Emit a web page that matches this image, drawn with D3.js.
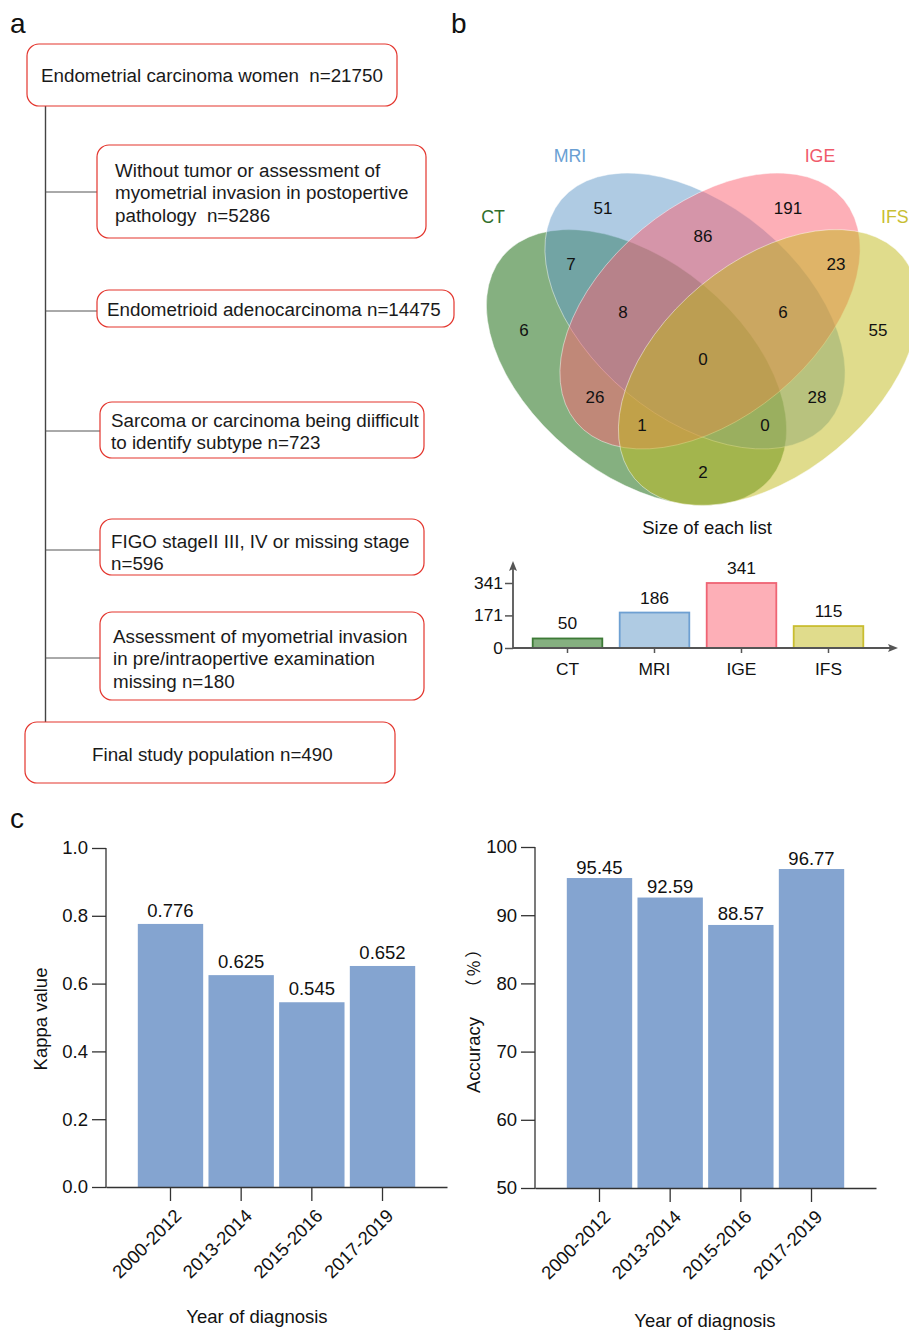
<!DOCTYPE html>
<html><head><meta charset="utf-8">
<script src="https://cdn.jsdelivr.net/npm/d3@7/dist/d3.min.js"></script>
<style>
body{margin:0;background:#fff}
svg{display:block;font-family:"Liberation Sans",Arial,Helvetica,sans-serif}
</style>
</head><body>
<svg id="fig" width="909" height="1330"></svg>
<script>
// ---------------- DATA ----------------
const flowTexts = [
  ["Endometrial carcinoma women\u00a0\u00a0n=21750"],
  ["Without tumor or assessment of", "myometrial invasion in postopertive", "pathology\u00a0\u00a0n=5286"],
  ["Endometrioid adenocarcinoma n=14475"],
  ["Sarcoma or carcinoma being diifficult", "to identify subtype n=723"],
  ["FIGO stageII III, IV or missing stage", "n=596"],
  ["Assessment of myometrial invasion", "in pre/intraopertive examination", "missing n=180"],
  ["Final study population n=490"]
];
const vennSets = ["CT", "MRI", "IGE", "IFS"];
const vennRegions = ["CT", "MRI", "IGE", "IFS", "CT&MRI", "MRI&IGE", "IGE&IFS", "CT&MRI&IGE", "MRI&IGE&IFS", "ALL", "CT&IGE", "MRI&IFS", "CT&IGE&IFS", "CT&MRI&IFS", "CT&IFS"];
const vennCounts = [6, 51, 191, 55, 7, 86, 23, 8, 6, 0, 26, 28, 1, 0, 2];
const listSizes = [50, 186, 341, 115];
const listTicks = [0, 171, 341];
const years = ["2000-2012", "2013-2014", "2015-2016", "2017-2019"];
const kappa = [0.776, 0.625, 0.545, 0.652];
const kappaTicks = [0, 0.2, 0.4, 0.6, 0.8, 1.0];
const accuracy = [95.45, 92.59, 88.57, 96.77];
const accTicks = [50, 60, 70, 80, 90, 100];

// ---------------- STYLE / LAYOUT ----------------
const svg = d3.select("#fig");
const setFill = {CT: "#0b6101", MRI: "#5f97c7", IGE: "#fb5f6f", IFS: "#c1b919"};
const setText = {CT: "#2f6e2b", MRI: "#6a9fd3", IGE: "#f05a6a", IFS: "#c8be32"};
const barFill = {CT: "#85b080", MRI: "#afcbe3", IGE: "#fdafb7", IFS: "#e0dc8c"};
const barStroke = {CT: "#3d7a36", MRI: "#6ea0d2", IGE: "#ef6474", IFS: "#c9bd30"};
const red = "#e3352d";

// panel letters
[["a", 10, 33], ["b", 451, 33], ["c", 10, 828]].forEach(([t, x, y]) =>
  svg.append("text").attr("x", x).attr("y", y).attr("font-size", 28).attr("fill", "#111").text(t));

// ---------------- PANEL a : flow chart ----------------
const flowBoxes = [
  {x: 27, y: 44, w: 370, h: 62, tx: 41, ty: 82},
  {x: 97, y: 145, w: 329, h: 93, tx: 115, ty: 177, cy: 192},
  {x: 97, y: 290, w: 357, h: 37, tx: 107, ty: 316, cy: 311},
  {x: 100, y: 402, w: 324, h: 56, tx: 111, ty: 427, cy: 431},
  {x: 100, y: 519, w: 324, h: 56, tx: 111, ty: 548, cy: 550},
  {x: 100, y: 612, w: 324, h: 88, tx: 113, ty: 643, cy: 658},
  {x: 25, y: 722, w: 370, h: 61, tx: 92, ty: 761}
];
const fa = svg.append("g");
fa.append("line").attr("x1", 45.5).attr("x2", 45.5).attr("y1", 106).attr("y2", 722)
  .attr("stroke", "#444").attr("stroke-width", 1.4);
flowBoxes.forEach((b, i) => {
  if (b.cy) fa.append("line").attr("x1", 45.5).attr("x2", b.x).attr("y1", b.cy).attr("y2", b.cy)
    .attr("stroke", "#555").attr("stroke-width", 1);
  fa.append("rect").attr("x", b.x).attr("y", b.y).attr("width", b.w).attr("height", b.h)
    .attr("rx", 12).attr("fill", "#fff").attr("stroke", red).attr("stroke-width", 1.2);
  const t = fa.append("text").attr("x", b.tx).attr("y", b.ty).attr("font-size", 18.8).attr("fill", "#1a1a1a");
  flowTexts[i].forEach((line, j) => t.append("tspan").attr("x", b.tx).attr("dy", j === 0 ? 0 : 22.4).text(line));
});

// ---------------- PANEL b : Venn ----------------
const vx = d3.scaleLinear().domain([-1, 1]).range([602.5, 802.5]);
const vy = d3.scaleLinear().domain([-1, 1]).range([239.25, 439.25]);
const ellA = 1.74, ellB = 1.063;
const ellipses = [
  {set: "CT", cx: -0.66, cy: 0.2825, rot: 39.7},
  {set: "MRI", cx: -0.075, cy: -0.2825, rot: 39.7},
  {set: "IGE", cx: 0.075, cy: -0.2825, rot: -39.7},
  {set: "IFS", cx: 0.66, cy: 0.2825, rot: -39.7}
];
const vg = svg.append("g");
vg.selectAll("ellipse").data(ellipses).join("ellipse")
  .attr("transform", d => `translate(${vx(d.cx)},${vy(d.cy)}) rotate(${d.rot})`)
  .attr("rx", vx(ellA) - vx(0)).attr("ry", vy(ellB) - vy(0))
  .attr("fill", d => setFill[d.set]).attr("fill-opacity", 0.5)
  .attr("stroke", "#fff").attr("stroke-opacity", 0.55).attr("stroke-width", 0.8);

const regionPos = [[-1.785, -0.0925], [-0.995, -1.3125], [0.855, -1.3125], [1.755, -0.0925],
  [-1.315, -0.7525], [0.005, -1.0325], [1.335, -0.7525], [-0.795, -0.2725], [0.805, -0.2725],
  [0.005, 0.1975], [-1.075, 0.5775], [1.145, 0.5775], [-0.605, 0.8575], [0.625, 0.8575], [0.005, 1.3275]];
vg.selectAll("text.cnt").data(vennCounts).join("text").attr("class", "cnt")
  .attr("x", (d, i) => vx(regionPos[i][0])).attr("y", (d, i) => vy(regionPos[i][1]))
  .attr("dy", "0.36em").attr("text-anchor", "middle").attr("font-size", 17).attr("fill", "#111")
  .text(d => d);

const setLabelPos = [[-2.095, -1.2225, "middle"], [-1.325, -1.8325, "middle"], [1.175, -1.8325, "middle"], [1.785, -1.2225, "start"]];
vg.selectAll("text.setlab").data(vennSets).join("text").attr("class", "setlab")
  .attr("x", (d, i) => vx(setLabelPos[i][0])).attr("y", (d, i) => vy(setLabelPos[i][1]))
  .attr("dy", "0.36em").attr("text-anchor", (d, i) => setLabelPos[i][2])
  .attr("font-size", 17.8).attr("fill", d => setText[d]).text(d => d);

svg.append("text").attr("x", 707).attr("y", 534).attr("text-anchor", "middle")
  .attr("font-size", 18.5).attr("fill", "#111").text("Size of each list");

// small bar chart
const sg = svg.append("g");
const sx = d3.scaleBand().domain(vennSets).range([524, 872]).paddingInner(0.2).paddingOuter(0.1);
const sy = d3.scaleLinear().domain([0, 341]).range([648, 583]);
const axCol = "#555";
sg.selectAll("rect").data(listSizes).join("rect")
  .attr("x", (d, i) => sx(vennSets[i])).attr("width", sx.bandwidth())
  .attr("y", d => sy(d)).attr("height", d => sy(0) - sy(d))
  .attr("fill", (d, i) => barFill[vennSets[i]]).attr("stroke", (d, i) => barStroke[vennSets[i]]).attr("stroke-width", 1.8);
sg.selectAll("text.v").data(listSizes).join("text").attr("class", "v")
  .attr("x", (d, i) => sx(vennSets[i]) + sx.bandwidth() / 2).attr("y", d => sy(d) - 9)
  .attr("text-anchor", "middle").attr("font-size", 17.4).attr("fill", "#111").text(d => d);
const ya = sg.append("g").attr("transform", "translate(513,0)")
  .call(d3.axisLeft(sy).tickValues(listTicks).tickSize(8).tickPadding(2).tickFormat(d3.format("d")));
const xa = sg.append("g").attr("transform", "translate(0,648)")
  .call(d3.axisBottom(sx).tickSize(5).tickPadding(10));
[ya, xa].forEach(a => {
  a.select(".domain").remove();
  a.selectAll(".tick line").attr("stroke", axCol).attr("stroke-width", 1.5);
  a.selectAll("text").attr("font-size", 17.4).attr("fill", "#111").attr("font-family", null);
});
xa.selectAll("text").attr("dy", "0.71em");
sg.append("line").attr("x1", 513).attr("x2", 891).attr("y1", 648).attr("y2", 648).attr("stroke", axCol).attr("stroke-width", 1.8);
sg.append("line").attr("x1", 513).attr("x2", 513).attr("y1", 649).attr("y2", 568).attr("stroke", axCol).attr("stroke-width", 1.8);
sg.append("path").attr("d", "M898,648 L888,644 L890,648 L888,652 Z").attr("fill", axCol);
sg.append("path").attr("d", "M513,561 L509,571 L513,569 L517,571 Z").attr("fill", axCol);

// ---------------- PANEL c : bar charts ----------------
const fs = 18.5;
function barPanel(opts) {
  const g = svg.append("g");
  const x = d3.scaleBand().domain(years).range([opts.x0, opts.x0 + 341]).paddingInner(0.075).paddingOuter(0.45);
  const y = d3.scaleLinear().domain(opts.domain).range([opts.yb, opts.yt]);
  g.selectAll("rect").data(opts.values).join("rect")
    .attr("x", (d, i) => x(years[i])).attr("width", x.bandwidth())
    .attr("y", d => y(d)).attr("height", d => y(opts.domain[0]) - y(d))
    .attr("fill", "#84a4d0");
  g.selectAll("text.v").data(opts.values).join("text").attr("class", "v")
    .attr("x", (d, i) => x(years[i]) + x.bandwidth() / 2).attr("y", d => y(d) - opts.gap)
    .attr("text-anchor", "middle").attr("font-size", fs).attr("fill", "#111").text(opts.fmt);
  const yAx = g.append("g").attr("transform", `translate(${opts.x0},0)`)
    .call(d3.axisLeft(y).tickValues(opts.ticks).tickSize(14).tickPadding(4).tickFormat(opts.tickFmt));
  const xAx = g.append("g").attr("transform", `translate(0,${opts.yb})`)
    .call(d3.axisBottom(x).tickSize(14).tickSizeOuter(0).tickFormat(""));
  [yAx, xAx].forEach(a => {
    a.selectAll("line,path").attr("stroke", "#333").attr("stroke-width", 1.3);
    a.selectAll("text").attr("font-size", fs).attr("fill", "#111").attr("font-family", null);
  });
  yAx.select(".domain").attr("d", `M0,${opts.yt}V${opts.yb + 1}`);
  g.selectAll("text.xl").data(years).join("text").attr("class", "xl")
    .attr("transform", d => `translate(${x(d) + x.bandwidth() / 2 + 12},${opts.yb + 30}) rotate(-45)`)
    .attr("text-anchor", "end").attr("font-size", fs).attr("fill", "#111").text(d => d);
  g.append("text").attr("x", opts.titleX).attr("y", opts.titleY).attr("text-anchor", "middle")
    .attr("font-size", fs).attr("fill", "#111").text("Year of diagnosis");
  return g;
}
barPanel({x0: 106, yb: 1187, yt: 848, domain: [0, 1], values: kappa, ticks: kappaTicks,
  tickFmt: d3.format(".1f"), fmt: d => d3.format(".3f")(d), gap: 7, titleX: 257, titleY: 1323});
barPanel({x0: 535, yb: 1188, yt: 847, domain: [50, 100], values: accuracy, ticks: accTicks,
  tickFmt: d3.format("d"), fmt: d => d3.format(".2f")(d), gap: 4.5, titleX: 705, titleY: 1327});

svg.append("text").attr("transform", "translate(47,1019) rotate(-90)").attr("text-anchor", "middle")
  .attr("font-size", fs).attr("fill", "#111").text("Kappa value");
svg.append("text").attr("transform", "translate(480,1055) rotate(-90)").attr("text-anchor", "middle")
  .attr("font-size", fs).attr("fill", "#111").text("Accuracy");
svg.append("text").attr("transform", "translate(480,967) rotate(-90)").attr("text-anchor", "middle")
  .attr("font-size", 17).attr("letter-spacing", "3px").attr("fill", "#111")
  .attr("font-family", "'Noto Sans CJK SC',sans-serif").text("（%）");
</script>
</body></html>
